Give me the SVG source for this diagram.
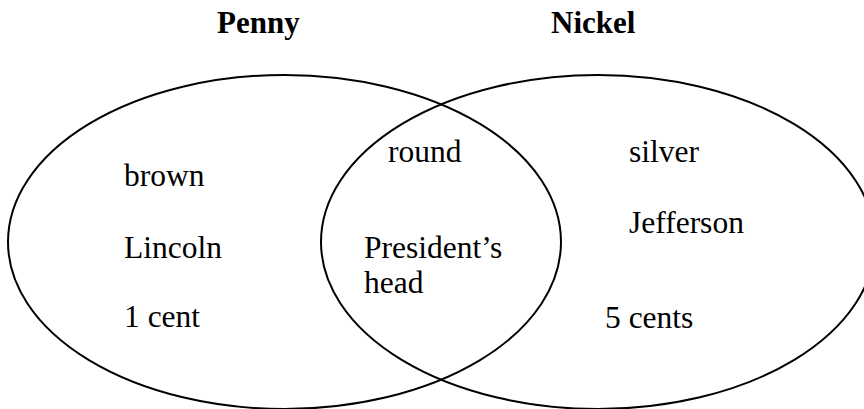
<svg xmlns="http://www.w3.org/2000/svg" width="864" height="409" viewBox="0 0 864 409">
<style>
.set{fill:none;stroke:#000;stroke-width:2}
text{fill:#000}
.t{font-size:31.5px}
.h{font-size:31px;font-weight:bold}
</style>
<rect width="864" height="409" fill="#fff"/>
<g id="penny" font-family="'Liberation Serif', 'Times New Roman', 'DejaVu Serif', serif">
<ellipse class="set" cx="284.5" cy="242" rx="276.5" ry="167"/>
<text class="h" x="217" y="33">Penny</text>
<text class="t" x="124" y="186">brown</text>
<text class="t" x="124" y="258">Lincoln</text>
<text class="t" x="124" y="327">1 cent</text>
</g>
<g id="nickel" font-family="'Liberation Serif', 'Times New Roman', 'DejaVu Serif', serif">
<ellipse class="set" cx="598" cy="242" rx="277" ry="167"/>
<text class="h" x="551" y="33">Nickel</text>
<text class="t" x="629" y="162">silver</text>
<text class="t" x="629" y="233">Jefferson</text>
<text class="t" x="605" y="328">5 cents</text>
</g>
<g id="both" font-family="'Liberation Serif', 'Times New Roman', 'DejaVu Serif', serif">
<text class="t" x="388" y="162">round</text>
<text class="t" x="364" y="258">President’s</text>
<text class="t" x="364" y="293">head</text>
</g>
<g id="connectors"></g>
</svg>
